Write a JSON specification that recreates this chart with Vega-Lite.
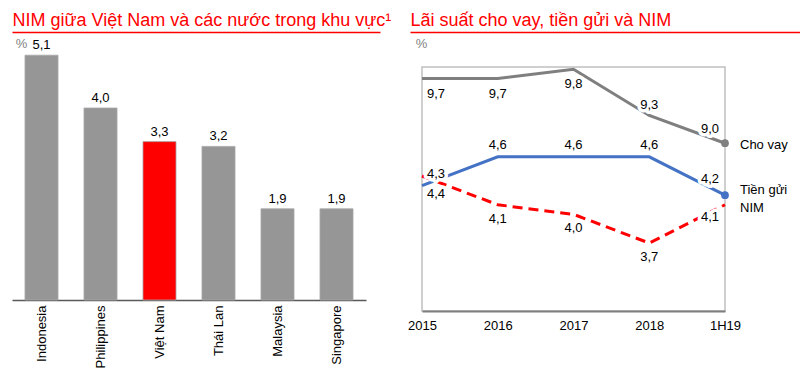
{
  "$schema": "https://vega.github.io/schema/vega-lite/v6.json",
  "padding": {"left": 12, "top": 11, "right": 0, "bottom": 0},
  "background": "white",
  "spacing": 30,
  "bounds": "flush",
  "config": {
    "font": "Liberation Sans",
    "locale": {"number": {"decimal": ",", "thousands": ".", "grouping": [3], "currency": ["", "€"]}},
    "view": {"stroke": null},
    "axis": {"labelFont": "Liberation Sans", "titleFont": "Liberation Sans", "grid": false}
  },
  "hconcat": [
    {
      "width": 368,
      "height": 252,
      "data": {"values": [
        {"country": "Indonesia", "value": 5.1},
        {"country": "Philippines", "value": 4.0},
        {"country": "Việt Nam", "value": 3.3},
        {"country": "Thái Lan", "value": 3.2},
        {"country": "Malaysia", "value": 1.9},
        {"country": "Singapore", "value": 1.9}
      ]},
      "layer": [
        {
          "encoding": {
            "x": {"field": "country", "type": "nominal", "sort": null,
              "scale": {"range": [0, 354], "paddingInner": 0.44, "paddingOuter": 0.22},
              "axis": {"title": null, "labelAngle": -90, "labelFontSize": 13, "labelColor": "#000000", "ticks": false, "domainColor": "#595959", "domainWidth": 1.5, "labelPadding": 5}},
            "y": {"field": "value", "type": "quantitative", "scale": {"domain": [0, 5.25]},
              "axis": {"title": "%", "titleAngle": 0, "titleX": 9, "titleY": -1, "titleAlign": "center", "titleBaseline": "alphabetic", "titleFontSize": 13, "titleFontWeight": "normal", "titleColor": "#7f7f7f", "labels": false, "ticks": false, "domain": false}}
          },
          "layer": [
            {
              "mark": {"type": "bar", "stroke": "#a8a8a8", "strokeWidth": 0.8},
              "encoding": {
                "color": {"condition": {"test": "datum.country === 'Việt Nam'", "value": "#ff0000"}, "value": "#969696"}
              }
            },
            {
              "mark": {"type": "text", "fontSize": 13, "color": "#000000", "baseline": "middle", "dy": -10},
              "encoding": {"text": {"field": "value", "type": "quantitative", "format": ".1f"}}
            }
          ]
        },
        {
          "data": {"values": [{}]},
          "mark": {"type": "rule", "opacity": 0},
          "encoding": {
            "x": {"datum": 0, "type": "quantitative", "scale": {"domain": [0, 1]},
              "axis": {"orient": "top", "offset": 16, "title": "NIM giữa Việt Nam và các nước trong khu vực¹", "titleColor": "#ff0000", "titleFontSize": 18, "titleFontWeight": "normal", "titleAnchor": "start", "titleAlign": "left", "titlePadding": 3, "domainColor": "#ff0000", "domainWidth": 1.5, "ticks": false, "labels": false}}
          }
        }
      ],
      "resolve": {"scale": {"x": "independent"}, "axis": {"x": "independent"}}
    },
    {
      "width": 390,
      "height": 263,
      "data": {"values": [
        {"series": "Cho vay", "year": "2015", "value": 9.7},
        {"series": "Cho vay", "year": "2016", "value": 9.7},
        {"series": "Cho vay", "year": "2017", "value": 9.8},
        {"series": "Cho vay", "year": "2018", "value": 9.3},
        {"series": "Cho vay", "year": "1H19", "value": 9.0},
        {"series": "Tiền gửi", "year": "2015", "value": 4.3},
        {"series": "Tiền gửi", "year": "2016", "value": 4.6},
        {"series": "Tiền gửi", "year": "2017", "value": 4.6},
        {"series": "Tiền gửi", "year": "2018", "value": 4.6},
        {"series": "Tiền gửi", "year": "1H19", "value": 4.2},
        {"series": "NIM", "year": "2015", "value": 4.4},
        {"series": "NIM", "year": "2016", "value": 4.1},
        {"series": "NIM", "year": "2017", "value": 4.0},
        {"series": "NIM", "year": "2018", "value": 3.7},
        {"series": "NIM", "year": "1H19", "value": 4.1}
      ]},
      "layer": [
        {
          "encoding": {
            "x": {"field": "year", "type": "ordinal",
              "scale": {"type": "point", "domain": ["2015", "2016", "2017", "2018", "1H19"], "range": [12, 315], "padding": 0},
              "axis": {"orient": "bottom", "title": null, "labelAngle": 0, "labelFontSize": 13, "labelColor": "#000000", "ticks": false, "domainColor": "#7f7f7f", "domainWidth": 2, "labelPadding": 8}}
          },
          "layer": [
            {
              "transform": [{"filter": "datum.series === 'Cho vay'"}],
              "encoding": {
                "y": {"field": "value", "type": "quantitative", "scale": {"domain": [7.184, 9.825], "range": [263, 19]},
                  "axis": {"title": "%", "titleAngle": 0, "titleX": 11, "titleY": -1, "titleAlign": "center", "titleBaseline": "alphabetic", "titleFontSize": 13, "titleFontWeight": "normal", "titleColor": "#7f7f7f", "labels": false, "ticks": false, "domain": false}}
              },
              "layer": [
                {
                  "transform": [{"filter": "datum.year === '2015'"}],
                  "mark": {"type": "rect", "filled": false, "stroke": "#c0c0c0", "strokeWidth": 1.5},
                  "encoding": {
                    "x": {"datum": "2015", "type": "ordinal"},
                    "x2": {"datum": "1H19"},
                    "y": {"datum": 9.825, "type": "quantitative"},
                    "y2": {"datum": 7.184}
                  }
                },
                {
                  "mark": {"type": "line", "color": "#7f7f7f", "strokeWidth": 3}
                },
                {
                  "transform": [{"filter": "datum.year === '1H19'"}],
                  "mark": {"type": "point", "filled": true, "color": "#7f7f7f", "size": 60, "opacity": 1}
                },
                {
                  "mark": {"type": "text", "fontSize": 13, "fill": "white", "stroke": "white", "strokeWidth": 7, "strokeJoin": "round", "baseline": "middle",
                    "dx": {"expr": "datum.year === '2015' ? 14 : (datum.year === '1H19' ? -15 : 0)"},
                    "dy": {"expr": "datum.year === '1H19' ? -14 : (datum.year === '2018' ? -11 : 15)"}},
                  "encoding": {"text": {"field": "value", "type": "quantitative", "format": ".1f"}}
                },
                {
                  "mark": {"type": "text", "fontSize": 13, "color": "#000000", "baseline": "middle",
                    "dx": {"expr": "datum.year === '2015' ? 14 : (datum.year === '1H19' ? -15 : 0)"},
                    "dy": {"expr": "datum.year === '1H19' ? -14 : (datum.year === '2018' ? -11 : 15)"}},
                  "encoding": {"text": {"field": "value", "type": "quantitative", "format": ".1f"}}
                },
                {
                  "transform": [{"filter": "datum.year === '1H19'"}],
                  "mark": {"type": "text", "fontSize": 13, "color": "#000000", "align": "left", "baseline": "middle", "dx": 15, "dy": 2},
                  "encoding": {"text": {"field": "series", "type": "nominal"}}
                }
              ]
            },
            {
              "transform": [{"filter": "datum.series !== 'Cho vay'"}],
              "encoding": {
                "y": {"field": "value", "type": "quantitative", "scale": {"domain": [2.991, 5.538], "range": [263, 19]}, "axis": null}
              },
              "layer": [
                {
                  "transform": [{"filter": "datum.series !== 'NIM'"}],
                  "mark": {"type": "line", "color": "#4472c4", "strokeWidth": 3}
                },
                {
                  "transform": [{"filter": "datum.series === 'NIM'"}],
                  "mark": {"type": "line", "color": "#ff0000", "strokeWidth": 3, "strokeDash": [10, 6]}
                },
                {
                  "transform": [{"filter": "datum.series !== 'NIM' && datum.year === '1H19'"}],
                  "mark": {"type": "point", "filled": true, "color": "#4472c4", "size": 60, "opacity": 1}
                },
                {
                  "mark": {"type": "text", "fontSize": 13, "fill": "white", "stroke": "white", "strokeWidth": 7, "strokeJoin": "round", "baseline": "middle",
                    "dx": {"expr": "datum.year === '2015' ? 14 : (datum.year === '1H19' ? -15 : 0)"},
                    "dy": {"expr": "datum.series === 'NIM' ? (datum.year === '1H19' ? 12 : (datum.year === '2015' ? 18 : 14)) : (datum.year === '1H19' ? -16 : -12)"}},
                  "encoding": {"text": {"field": "value", "type": "quantitative", "format": ".1f"}}
                },
                {
                  "mark": {"type": "text", "fontSize": 13, "color": "#000000", "baseline": "middle",
                    "dx": {"expr": "datum.year === '2015' ? 14 : (datum.year === '1H19' ? -15 : 0)"},
                    "dy": {"expr": "datum.series === 'NIM' ? (datum.year === '1H19' ? 12 : (datum.year === '2015' ? 18 : 14)) : (datum.year === '1H19' ? -16 : -12)"}},
                  "encoding": {"text": {"field": "value", "type": "quantitative", "format": ".1f"}}
                },
                {
                  "transform": [{"filter": "datum.year === '1H19'"}],
                  "mark": {"type": "text", "fontSize": 13, "color": "#000000", "align": "left", "baseline": "middle", "dx": 15,
                    "dy": {"expr": "datum.series === 'NIM' ? 3 : -5"}},
                  "encoding": {"text": {"field": "series", "type": "nominal"}}
                }
              ]
            }
          ],
          "resolve": {"scale": {"y": "independent"}, "axis": {"y": "independent"}}
        },
        {
          "data": {"values": [{}]},
          "mark": {"type": "rule", "opacity": 0},
          "encoding": {
            "x": {"datum": 0, "type": "quantitative", "scale": {"domain": [0, 1]},
              "axis": {"orient": "top", "offset": 16, "title": "Lãi suất cho vay, tiền gửi và NIM", "titleColor": "#ff0000", "titleFontSize": 18, "titleFontWeight": "normal", "titleAnchor": "start", "titleAlign": "left", "titlePadding": 3, "domainColor": "#ff0000", "domainWidth": 1.5, "ticks": false, "labels": false}}
          }
        }
      ],
      "resolve": {"scale": {"x": "independent"}, "axis": {"x": "independent"}}
    }
  ]
}
